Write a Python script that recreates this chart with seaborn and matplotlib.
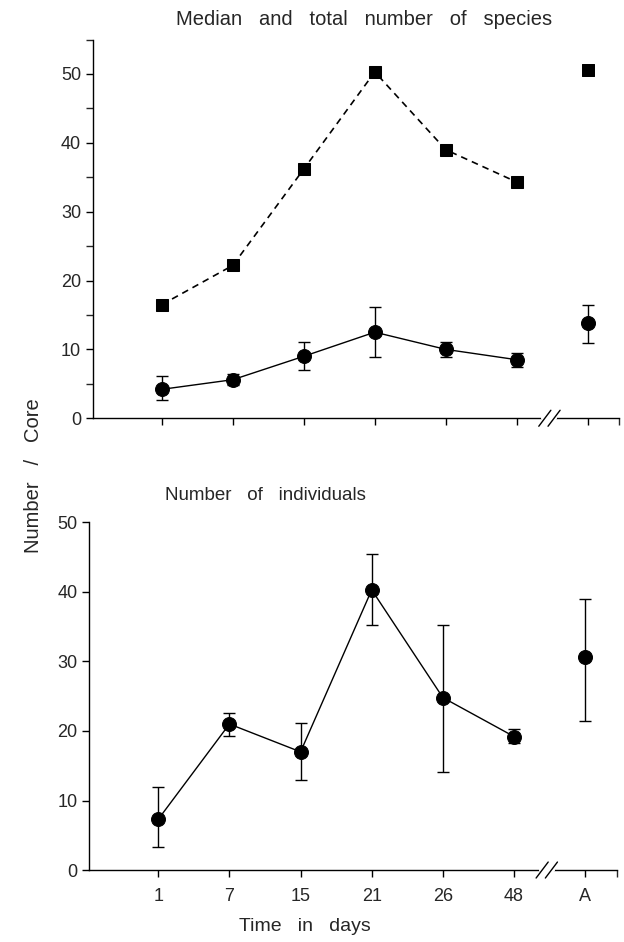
import numpy as np
import pandas as pd
import matplotlib.pyplot as plt
from matplotlib.ticker import MultipleLocator
import seaborn as sns

sns.set_theme(style="ticks")
plt.rcParams["font.family"] = ["Liberation Sans", "DejaVu Sans"]

# --- data ---
DAYS = ["1", "7", "15", "21", "26", "48"]
TICK_LABELS = DAYS + ["A"]

species_total = [16.5, 22.2, 36.2, 50.3, 39.0, 34.3]
species_total_A = 50.6

species_median = [4.2, 5.6, 9.0, 12.5, 10.0, 8.5]
species_hi = [6.1, 6.4, 11.1, 16.1, 11.1, 9.5]
species_lo = [2.6, 4.9, 7.0, 8.9, 8.9, 7.5]
species_median_A = 13.9
species_hi_A = 16.5
species_lo_A = 11.0

individuals = [7.3, 21.0, 17.0, 40.3, 24.8, 19.2]
indiv_hi = [11.9, 22.6, 21.1, 45.5, 35.3, 20.3]
indiv_lo = [3.3, 19.3, 13.0, 35.3, 14.1, 18.3]
individuals_A = 30.6
indiv_hi_A = 39.0
indiv_lo_A = 21.4

pos = np.arange(len(TICK_LABELS))
day_pos = pos[:len(DAYS)]
pos_A = pos[-1]
XLIM = (-0.97, 6.44)
BREAK_X = 5.46


def axis_break(ax, xb):
    h = ax.bbox.height
    dy = 8 / h
    tr = ax.get_xaxis_transform()
    ax.plot([xb - 0.085, xb + 0.085], [0, 0], color="white", lw=3,
            transform=tr, clip_on=False, zorder=5)
    for off in (-0.065, 0.065):
        ax.plot([xb + off - 0.085, xb + off + 0.085], [-dy, dy], color="black",
                lw=1, transform=tr, clip_on=False, zorder=6)


def point_with_err(ax, x, y, lo, hi):
    ax.errorbar(x, y, yerr=[np.array(y) - np.array(lo), np.array(hi) - np.array(y)],
                fmt="none", ecolor="black", elinewidth=1, capsize=4, capthick=1, zorder=3)


def style_axes(ax, ymax):
    ax.set_xlim(*XLIM)
    ax.set_ylim(0, ymax)
    ax.set_xticks(pos)
    ax.set_xticks([XLIM[1]], minor=True)
    ax.set_yticks(np.arange(0, 51, 10))
    sns.despine(ax=ax)
    ax.tick_params(axis="both", direction="out", length=5, width=1, labelsize=13, color="black")
    ax.tick_params(axis="x", which="minor", length=5, width=1)
    for s in ("left", "bottom"):
        ax.spines[s].set_linewidth(1)
        ax.spines[s].set_color("black")
    ax.set_xlabel("")
    ax.set_ylabel("")


fig = plt.figure(figsize=(6.24, 9.42), dpi=100)
ax1 = fig.add_axes([0.149, 0.556, 0.843, 0.402])
ax2 = fig.add_axes([0.143, 0.0764, 0.845, 0.369])

# --- top panel: species ---
tot = pd.DataFrame({"x": day_pos, "y": species_total})
med = pd.DataFrame({"x": day_pos, "y": species_median})
sns.lineplot(data=tot, x="x", y="y", ax=ax1, color="black", lw=1.2, linestyle=(0, (4, 3)),
             marker="s", markersize=9, markeredgecolor="black", zorder=4)
sns.scatterplot(x=[pos_A], y=[species_total_A], ax=ax1, marker="s", s=80, color="black",
                edgecolor="black", zorder=4)
point_with_err(ax1, day_pos, species_median, species_lo, species_hi)
point_with_err(ax1, [pos_A], [species_median_A], [species_lo_A], [species_hi_A])
sns.lineplot(data=med, x="x", y="y", ax=ax1, color="black", lw=1,
             marker="o", markersize=10, markeredgecolor="black", zorder=4)
sns.scatterplot(x=[pos_A], y=[species_median_A], ax=ax1, marker="o", s=100, color="black",
                edgecolor="black", zorder=4)
style_axes(ax1, 55)
ax1.yaxis.set_minor_locator(MultipleLocator(5))
ax1.tick_params(axis="y", which="minor", length=5, width=1)
ax1.set_xticklabels([])

# --- bottom panel: individuals ---
ind = pd.DataFrame({"x": day_pos, "y": individuals})
point_with_err(ax2, day_pos, individuals, indiv_lo, indiv_hi)
point_with_err(ax2, [pos_A], [individuals_A], [indiv_lo_A], [indiv_hi_A])
sns.lineplot(data=ind, x="x", y="y", ax=ax2, color="black", lw=1,
             marker="o", markersize=10, markeredgecolor="black", zorder=4)
sns.scatterplot(x=[pos_A], y=[individuals_A], ax=ax2, marker="o", s=100, color="black",
                edgecolor="black", zorder=4)
style_axes(ax2, 50)
ax2.set_xticklabels(TICK_LABELS)
ax2.tick_params(axis="x", pad=8)

fig.text(0.584, 0.979, "Median   and   total   number   of   species", fontsize=14.5,
         ha="center", va="center")
fig.text(0.265, 0.474, "Number   of   individuals", fontsize=13.5, ha="left", va="center")
fig.text(0.489, 0.016, "Time   in   days", fontsize=14, ha="center", va="center")
fig.text(0.053, 0.495, "Number   /   Core", fontsize=14.5, rotation=90, ha="center", va="center")

for ax in (ax1, ax2):
    axis_break(ax, BREAK_X)

fig.savefig("out.png", dpi=100)
